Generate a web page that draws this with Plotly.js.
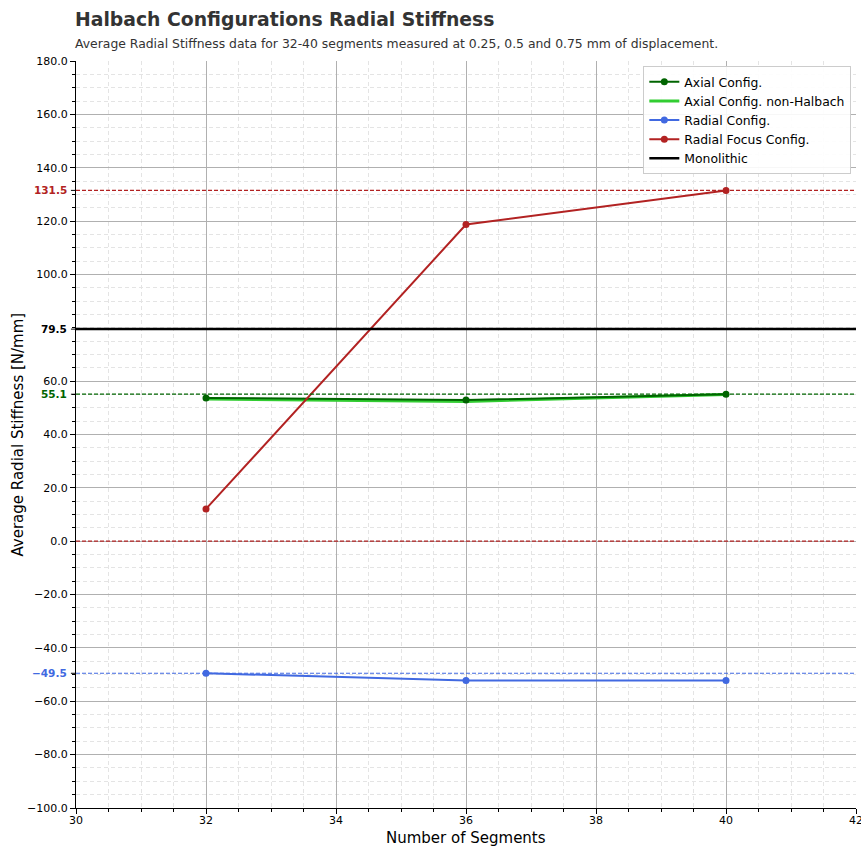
<!DOCTYPE html>
<html>
<head>
<meta charset="utf-8">
<script src="https://cdn.plot.ly/plotly-3.0.1.min.js"></script>
<style>
  html, body { margin: 0; padding: 0; background: #fff; }
  #chart { width: 861px; height: 846px; }
</style>
</head>
<body>
<div id="chart"></div>
<script>
// Segment counts measured
const segments = [32, 36, 40];

// Average radial stiffness [N/mm] per configuration
const axialConfig = [53.7, 52.9, 55.1];
const axialNonHalbach = [53.3, 52.4, 55.0];
const radialConfig = [-49.5, -52.2, -52.2];
const radialFocusConfig = [12.1, 118.7, 131.5];
const monolithic = 79.5;

// Axis extents and tick positions
const xRange = [30, 42];
const yRange = [-100, 180];
const xTicks = [30, 32, 34, 36, 38, 40, 42];
const yMajorTicks = [-100, -80, -60, -40, -20, 0, 20, 40, 60, 80, 100, 120, 140, 160, 180];

const FONT = "DejaVu Sans, sans-serif";
const C = {
  axial: "#006400",
  nonHalbach: "#32CD32",
  radial: "#4169E1",
  focus: "#B22222",
  mono: "#000000"
};

const fmt = v => v.toFixed(1).replace("-", "\u2212");

const traces = [
  {
    name: "Axial Config. non-Halbach", x: segments, y: axialNonHalbach,
    mode: "lines", line: { color: C.nonHalbach, width: 3 }, legendrank: 2
  },
  {
    name: "Axial Config.", x: segments, y: axialConfig,
    mode: "lines+markers", line: { color: C.axial, width: 2 },
    marker: { color: C.axial, size: 7 }, legendrank: 1
  },
  {
    name: "Radial Config.", x: segments, y: radialConfig,
    mode: "lines+markers", line: { color: C.radial, width: 2 },
    marker: { color: C.radial, size: 7 }, legendrank: 3
  },
  {
    name: "Radial Focus Config.", x: segments, y: radialFocusConfig,
    mode: "lines+markers", line: { color: C.focus, width: 2 },
    marker: { color: C.focus, size: 7 }, legendrank: 4
  },
  {
    name: "Monolithic", x: xRange, y: [monolithic, monolithic],
    mode: "lines", line: { color: C.mono, width: 2.5 }, legendrank: 5
  }
];

// Horizontal reference levels: peak of each configuration plus zero
const refLines = [
  { y: Math.max(...radialFocusConfig), color: C.focus, label: true },
  { y: Math.max(...axialConfig), color: C.axial, label: true },
  { y: Math.max(...radialConfig), color: C.radial, label: true },
  { y: 0, color: C.focus, label: false }
];

const shapes = [];
const annotations = [];

refLines.forEach(r => {
  shapes.push({
    type: "line", xref: "paper", x0: 0, x1: 1, yref: "y", y0: r.y, y1: r.y,
    line: { color: r.color, width: 1.2, dash: "4px,2px" }, layer: "above"
  });
});

// Highlighted value labels on the y axis
const labelled = refLines.filter(r => r.label).map(r => ({ y: r.y, color: r.color }));
labelled.push({ y: monolithic, color: C.mono });

// Regular ticks that would collide with a highlighted label are dropped
const yTicks = yMajorTicks.filter(t => labelled.every(l => Math.abs(l.y - t) > 3));

labelled.forEach(l => {
  shapes.push({
    type: "line", xref: "paper", x0: -0.0065, x1: 0, yref: "y", y0: l.y, y1: l.y,
    line: { color: "#000", width: 1 }
  });
  annotations.push({
    xref: "paper", x: 0, xanchor: "right", xshift: -7,
    yref: "y", y: l.y, yanchor: "middle",
    text: "<b>" + fmt(l.y) + "</b>", showarrow: false,
    font: { family: FONT, size: 10.5, color: l.color }
  });
});

// Titles
annotations.push({
  xref: "paper", x: 0, xanchor: "left", xshift: -3,
  yref: "paper", y: 1.0549, yanchor: "middle",
  text: "<b>Halbach Configurations Radial Stiffness</b>", showarrow: false,
  font: { family: FONT, size: 18.8, color: "#333333" }
});
annotations.push({
  xref: "paper", x: 0, xanchor: "left", xshift: -3,
  yref: "paper", y: 1.0228, yanchor: "middle",
  text: "Average Radial Stiffness data for 32-40 segments measured at 0.25, 0.5 and 0.75 mm of displacement.",
  showarrow: false,
  font: { family: FONT, size: 12.4, color: "#333333" }
});
annotations.push({
  xref: "paper", x: 0.5, xanchor: "center",
  yref: "paper", y: -0.0405, yanchor: "middle",
  text: "Number of Segments", showarrow: false,
  font: { family: FONT, size: 15, color: "#000" }
});
annotations.push({
  xref: "paper", x: -0.0756, xanchor: "center",
  yref: "paper", y: 0.5, yanchor: "middle", textangle: -90,
  text: "Average Radial Stiffness [N/mm]", showarrow: false,
  font: { family: FONT, size: 15, color: "#000" }
});

const layout = {
  width: 861, height: 846,
  margin: { l: 76, r: 5, t: 61, b: 38 },
  paper_bgcolor: "#ffffff", plot_bgcolor: "#ffffff",
  font: { family: FONT, color: "#000" },
  showlegend: true,
  legend: {
    x: 0.994, xanchor: "right", y: 0.993, yanchor: "top",
    bgcolor: "rgba(255,255,255,0.9)", bordercolor: "#cccccc", borderwidth: 1,
    font: { family: FONT, size: 12.4, color: "#000" },
    itemwidth: 30, tracegroupgap: 0
  },
  xaxis: {
    range: xRange, tickmode: "array", tickvals: xTicks, ticktext: xTicks.map(String),
    ticklabeloverflow: "allow", ticklabelstandoff: -3,
    showline: true, linecolor: "#000", linewidth: 1,
    ticks: "outside", ticklen: 5, tickcolor: "#000",
    tickfont: { family: FONT, size: 11, color: "#000" },
    showgrid: true, gridcolor: "#b0b0b0", gridwidth: 1,
    zeroline: false,
    minor: { dtick: 0.5, tick0: 30, ticks: "outside", ticklen: 3, tickcolor: "#000",
             showgrid: true, gridcolor: "#e4e4e4", griddash: "4px,3px", gridwidth: 1 }
  },
  yaxis: {
    range: yRange, tickmode: "array", tickvals: yTicks, ticktext: yTicks.map(fmt),
    showline: true, linecolor: "#000", linewidth: 1,
    ticks: "outside", ticklen: 5, tickcolor: "#000",
    tickfont: { family: FONT, size: 11, color: "#000" },
    showgrid: true, gridcolor: "#b0b0b0", gridwidth: 1,
    zeroline: false,
    minor: { dtick: 5, tick0: 0, ticks: "outside", ticklen: 3, tickcolor: "#000",
             showgrid: true, gridcolor: "#e4e4e4", griddash: "4px,3px", gridwidth: 1 }
  },
  shapes: shapes,
  annotations: annotations
};

Plotly.newPlot("chart", traces, layout, { displayModeBar: false, responsive: false });
</script>
</body>
</html>
